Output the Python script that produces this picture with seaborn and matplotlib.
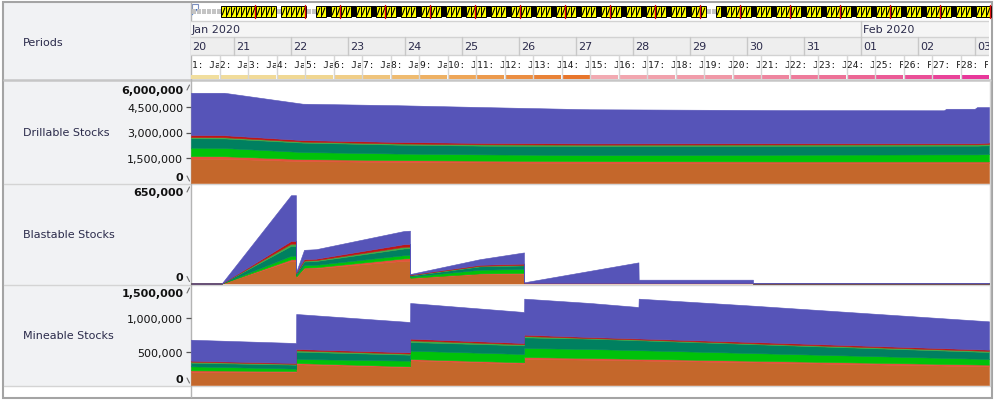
import numpy as np
import pandas as pd
import matplotlib
matplotlib.use("Agg")
import matplotlib.pyplot as plt
import seaborn as sns
from matplotlib.patches import Rectangle, Polygon
from matplotlib.colors import LinearSegmentedColormap
from matplotlib.transforms import Bbox, TransformedBbox

sns.set_style("white")
plt.rcParams['font.family'] = ['DejaVu Sans']

W, H = 994, 402
X0, X1 = 191, 989          # chart columns in pixels

start = pd.Timestamp("2020-01-20 06:00")
n_periods = 28             # 12 h periods
span_h = n_periods * 12

layer_colors = sns.color_palette(["#c4672b", "#e4513c", "#00c20a", "#008060",
                                  "#44a844", "#c01515", "#5654b8"])

# ---- Drillable Stocks (millions, hours after start) ----
drill_hours = [0, 14, 47, 87, 123, 168, 250, 317, 318, 330, 331, 336]
drill_orange = [1.45, 1.44, 1.30, 1.25, 1.22, 1.20, 1.20, 1.20, 1.20, 1.20, 1.20, 1.20]
drill_red = [0.15, 0.15, 0.12, 0.11, 0.11, 0.10, 0.08, 0.08, 0.08, 0.08, 0.08, 0.08]
drill_green = [0.50, 0.49, 0.42, 0.39, 0.37, 0.36, 0.40, 0.42, 0.42, 0.42, 0.42, 0.44]
drill_teal = [0.56, 0.57, 0.56, 0.53, 0.52, 0.54, 0.53, 0.52, 0.52, 0.52, 0.52, 0.52]
drill_lgreen = [0.07, 0.07, 0.06, 0.07, 0.08, 0.08, 0.08, 0.08, 0.08, 0.08, 0.08, 0.08]
drill_dred = [0.12, 0.12, 0.09, 0.09, 0.08, 0.07, 0.07, 0.06, 0.06, 0.06, 0.06, 0.08]
drill_blue = [2.51, 2.52, 2.16, 2.18, 2.13, 2.03, 1.97, 1.96, 2.05, 2.05, 2.15, 2.11]

# ---- Blastable Stocks (thousands) ----
blast_hours = [0, 12.9, 42.1, 44.2, 44.3, 47.6, 52.6, 89.7, 92.2, 92.3, 121.7, 140.2,
               140.3, 188.4, 188.5, 236.6, 236.7, 336]
blast_orange = [0, 0, 148, 148, 40, 99, 100, 148, 149, 34, 62, 64, 3, 3, 2, 2, 0, 0]
blast_red = [0, 0, 10, 10, 5, 5, 6, 16, 16, 3, 4, 5, 0, 0, 0, 0, 0, 0]
blast_green = [0, 0, 23, 23, 10, 16, 16, 21, 21, 8, 24, 26, 0, 0, 0, 0, 0, 0]
blast_teal = [0, 0, 65, 65, 10, 24, 25, 44, 44, 7, 22, 23, 0, 0, 0, 0, 0, 0]
blast_lgreen = [0, 0, 14, 14, 3, 6, 6, 11, 11, 3, 4, 4, 0, 0, 0, 0, 0, 0]
blast_dred = [0, 0, 18, 18, 4, 9, 9, 17, 17, 3, 6, 8, 0, 0, 0, 0, 0, 0]
blast_blue = [0, 0, 299, 299, 5, 61, 62, 86, 87, 4, 37, 73, 5, 135, 23, 23, 3, 3]

# ---- Mineable Stocks (thousands) ----
mine_hours = [0, 44.2, 44.3, 92.2, 92.3, 140.2, 140.3, 168, 188.4, 188.5, 236.6, 336]
mine_orange = [190, 190, 310, 265, 370, 320, 390, 380, 368, 368, 339, 280]
mine_red = [30, 20, 20, 15, 20, 20, 30, 25, 25, 25, 25, 25]
mine_green = [60, 35, 60, 85, 125, 125, 135, 135, 129, 129, 115, 85]
mine_teal = [55, 60, 110, 90, 130, 130, 160, 155, 149, 149, 134, 105]
mine_lgreen = [15, 13, 20, 17, 25, 17, 20, 10, 12, 12, 12, 17]
mine_dred = [15, 12, 20, 18, 25, 18, 20, 15, 15, 15, 20, 18]
mine_blue = [314, 300, 525, 455, 535, 465, 540, 510, 472, 597, 545, 425]

panels = [
    ("Drillable Stocks", drill_hours,
     [drill_orange, drill_red, drill_green, drill_teal, drill_lgreen, drill_dred, drill_blue],
     1e6, 6_000_000, [1_500_000, 3_000_000, 4_500_000], 83, 184),
    ("Blastable Stocks", blast_hours,
     [blast_orange, blast_red, blast_green, blast_teal, blast_lgreen, blast_dred, blast_blue],
     1e3, 650_000, [], 185, 284.5),
    ("Mineable Stocks", mine_hours,
     [mine_orange, mine_red, mine_green, mine_teal, mine_lgreen, mine_dred, mine_blue],
     1e3, 1_500_000, [500_000, 1_000_000], 286, 386),
]

# icon strip along the top: Y yellow icon, K black, R icon with red mark, . empty
icon_strip = ("......" + "YYYYYY" + "R" + "YYYY" + "." + "YYYY" + "R" + ".."
              + ("YYKYRYYKY" * 9)[:78] + ".." + ("YKYYRYYKYY" * 6)[:55])

fig = plt.figure(figsize=(W / 100, H / 100), dpi=100)


def px_axes(x0, y0, x1, y1, z):
    return fig.add_axes([x0 / W, 1 - y1 / H, (x1 - x0) / W, (y1 - y0) / H], zorder=z)


# background / frame in pixel units
bg = px_axes(0, 0, W, H, 0)
bg.set_xlim(0, W)
bg.set_ylim(H, 0)
bg.axis("off")
bg.add_patch(Rectangle((4, 4), X0 - 4, 383, fc="#f1f2f4", lw=0))
bg.add_patch(Rectangle((2.5, 2.5), 989, 396, fill=False, ec="#a4a4a4", lw=1.5))
for y in [184.5, 285.5, 386.5]:
    bg.plot([4, 990], [y, y], color="#d4d4d4", lw=1)
bg.plot([4, 990], [81, 81], color="#c6c6c6", lw=1.8)
bg.plot([X0, X0], [4, 398], color="#b4b4b4", lw=1)
bg.plot([990, 990], [81, 387], color="#d4d4d4", lw=1)
bg.text(23, 43, "Periods", fontsize=8, color="#2b2b4b", va="center")

# icon strip
bg.add_patch(Polygon([(191.5, 10), (198.5, 10), (191.5, 17)], fc="#2a6fd6", lw=0))
bg.add_patch(Rectangle((191.5, 5), 6, 6, fill=False, ec="#7b8fc0", lw=0.8))
for i, c in enumerate(icon_strip):
    x = X0 + 5 * i
    if c == ".":
        bg.add_patch(Rectangle((x + 0.5, 10), 4, 5, fc="#c4c4c4", lw=0))
    elif c == "K":
        bg.add_patch(Rectangle((x, 7), 5, 11, fc="black", lw=0))
    else:
        bg.add_patch(Rectangle((x + 0.3, 7), 4.4, 11, fc="#ffff00", ec="black", lw=0.7))
        bg.plot([x + 1.2, x + 3.8], [16, 9], color="black", lw=0.8)
        if c == "R":
            bg.plot([x + 4.4, x + 4.4], [6, 19], color="#e01010", lw=1)

# header with time axis
hdr = px_axes(X0, 4, X1, 81, 1)
hdr.set_xlim(0, span_h)
hdr.set_ylim(81, 4)
hdr.axis("off")
hdr.add_patch(Rectangle((0, 22), span_h, 16, fc="#f5f5f5", lw=0))
hdr.add_patch(Rectangle((0, 38), span_h, 18, fc="#eeeeee", lw=0))
for y in [22, 38, 56]:
    hdr.plot([0, span_h], [y, y], color="#d2d2d2", lw=1)


def hours(ts):
    return (ts - start) / pd.Timedelta(hours=1)


hdr.text(0.4, 30, "Jan 2020", fontsize=8, color="#2b2b4b", va="center", clip_on=True)
for m in pd.date_range("2020-01-21", "2020-02-03", freq="MS"):
    h = hours(m)
    hdr.plot([h, h], [22, 38], color="#c8c8c8", lw=1)
    hdr.text(h + 1.0, 30, m.strftime("%b %Y"), fontsize=8, color="#2b2b4b", va="center", clip_on=True)

hdr.text(0.4, 47, start.strftime("%d"), fontsize=8, color="#2b2b4b", va="center", clip_on=True)
for d in pd.date_range("2020-01-21", "2020-02-03", freq="D"):
    h = hours(d)
    hdr.plot([h, h], [38, 56], color="#c8c8c8", lw=1)
    hdr.text(h + 1.0, 47, d.strftime("%d"), fontsize=8, color="#2b2b4b", va="center", clip_on=True)

warm = LinearSegmentedColormap.from_list("warm", ["#f1de9e", "#f0d590", "#eeaa5c", "#e8762c"])
pink = LinearSegmentedColormap.from_list("pink", ["#f2aab2", "#f096a6", "#ec6a94", "#e8389a"])
period_colors = [warm(v) for v in np.linspace(0, 1, 14)] + [pink(v) for v in np.linspace(0, 1, 14)]

for k in range(n_periods):
    x = 12 * k
    ts = start + pd.Timedelta(hours=12 * k)
    if k:
        hdr.plot([x, x], [56, 80], color="#d6d6d6", lw=1)
    hdr.add_patch(Rectangle((x + 0.2, 75.5), 11.6, 4.5, fc=period_colors[k], lw=0))
    # the cell only has room for the first characters of "n: Mon dd"
    label = f"{k + 1}: {ts:%b %d}"[:5]
    t = hdr.text(x + 0.25, 66, label, fontsize=6.8,
                 family="DejaVu Sans Mono", color="#1a1a1a", va="center", clip_on=True)
    t.set_clip_box(TransformedBbox(Bbox([[x, 56], [x + 11.6, 75]]), hdr.transData))

# stacked panels
for name, hrs, layers, scale, ymax, mids, top, bottom in panels:
    ax = px_axes(X0, top, X1, bottom, 2)
    ax.set_facecolor("none")
    ys = [np.array(v) * scale for v in layers]
    ax.stackplot(hrs, *ys, colors=layer_colors, linewidth=0.4, edgecolor="face")
    ax.set_xlim(0, span_h)
    ax.set_ylim(0, ymax)
    ax.set_xticks([])
    for s in ax.spines.values():
        s.set_visible(False)
    ax.set_yticks(mids)
    ax.set_yticklabels([f"{v:,}" for v in mids])
    ax.tick_params(axis="y", left=True, length=3.3, width=0.9, color="#555555",
                   pad=2.4, labelsize=8, labelcolor="#111111")

    bg.text(23, (top + bottom) / 2, name, fontsize=8, color="#2b2b4b", va="center")
    bg.text(183.5, top + 8.5, f"{ymax:,}", fontsize=8, fontweight="bold",
            ha="right", va="center", color="#111111")
    bg.text(183.5, bottom - 6, "0", fontsize=8, fontweight="bold",
            ha="right", va="center", color="#111111")
    bg.plot([187, 189.5], [top + 8, top + 3], color="#707070", lw=0.8)
    bg.plot([187, 189.5], [bottom - 7, bottom - 2], color="#707070", lw=0.8)

fig.savefig("out.png", dpi=100)
